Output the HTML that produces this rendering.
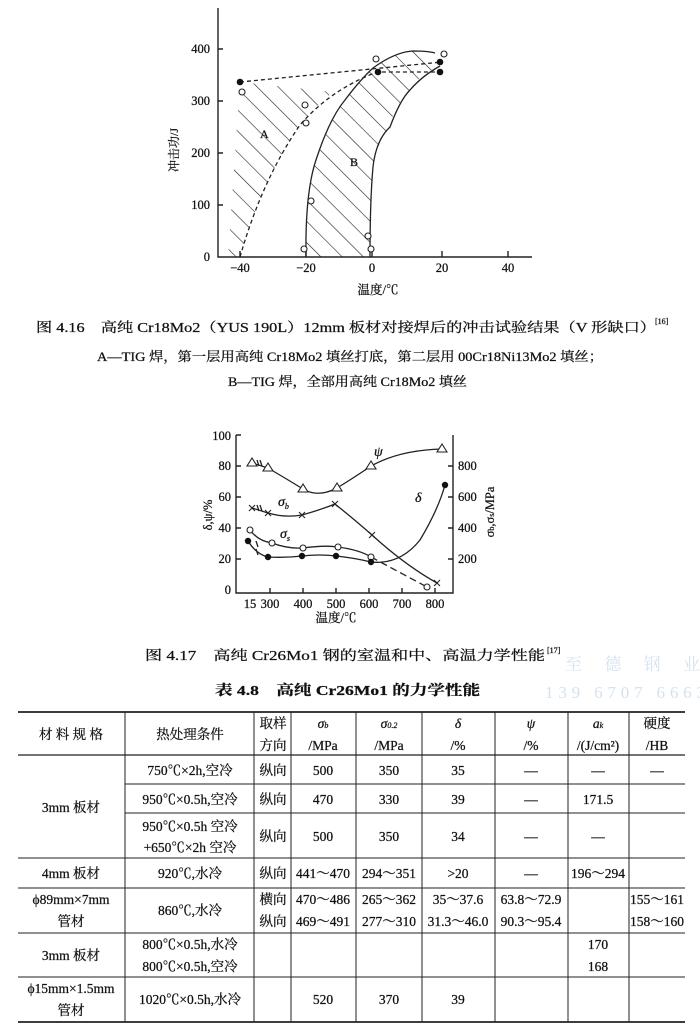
<!DOCTYPE html>
<html><head><meta charset="utf-8"><style>
html,body{margin:0;padding:0;background:#fff}
svg{display:block}
text{font-family:"Liberation Serif","Noto Serif CJK SC",serif;fill:#111;stroke:#111;stroke-width:0.25}
</style></head><body>
<svg width="700" height="1036" viewBox="0 0 700 1036" xmlns="http://www.w3.org/2000/svg">
<defs>
<pattern id="h" patternUnits="userSpaceOnUse" width="15" height="15" patternTransform="rotate(-45)">
<line x1="0" y1="0" x2="0" y2="15" stroke="#222" stroke-width="1.2"/>
</pattern>
</defs>
<!-- Chart 1 -->
<g stroke="#222" fill="none" stroke-width="1.4">
<path d="M218,8 V257 H532"/>
<path d="M218,49 h5 M218,101 h5 M218,153 h5 M218,205 h5 M240,257 v-6 M306,257 v-6 M372,257 v-6 M442,257 v-6 M508,257 v-6"/>
</g>
<path d="M228,257 L240,257 Q262,180 300,125 Q318,104 333,92 L240,82 Z" fill="url(#h)"/>
<path d="M306,257 Q305,190 317,157 Q330,118 345,100 Q360,80 373,68 Q395,52 413,51 Q428,51 435,53 L438,67 Q420,74 410,90 Q392,110 390,127 Q376,145 373,167 Q370,200 370,257 Z" fill="url(#h)"/>
<g stroke="#222" fill="none" stroke-width="1.3">
<path d="M306,257 Q305,190 317,157 Q330,118 345,100 Q360,80 373,68 Q395,52 413,51 Q428,51 435,53"/>
<path d="M370,257 Q370,200 373,167 Q376,140 390,127 Q400,100 410,90 Q422,76 440,66"/>
<path d="M240,257 Q262,180 300,125 Q330,90 377,72 L442,72" stroke-dasharray="4,3"/>
<path d="M240,82 L442,62" stroke-dasharray="4,3"/>
</g>
<g fill="#111"><circle cx="240" cy="82" r="3.3"/><circle cx="378" cy="72" r="3.3"/><circle cx="440" cy="62" r="3.3"/><circle cx="440" cy="72" r="3.3"/></g>
<g fill="#fff" stroke="#222" stroke-width="1.1">
<circle cx="242" cy="92" r="3"/><circle cx="305" cy="105" r="3"/><circle cx="306" cy="123" r="3"/><circle cx="376" cy="59" r="3"/><circle cx="444" cy="54" r="3"/><circle cx="311" cy="201" r="3"/><circle cx="304" cy="249" r="3"/><circle cx="368" cy="236" r="3"/><circle cx="371" cy="249" r="3"/>
</g>
<g font-size="12.5" text-anchor="end"><text x="210" y="53">400</text><text x="210" y="105">300</text><text x="210" y="157">200</text><text x="210" y="209">100</text><text x="210" y="261">0</text></g>
<g font-size="12.5" text-anchor="middle"><text x="240" y="272">−40</text><text x="306" y="272">−20</text><text x="372" y="272">0</text><text x="442" y="272">20</text><text x="508" y="272">40</text></g>
<text x="260" y="138" font-size="12">A</text><text x="350" y="166" font-size="12">B</text>
<text x="378" y="294" font-size="12.5" text-anchor="middle">温度/℃</text>
<text transform="translate(178,150) rotate(-90)" font-size="12" text-anchor="middle">冲击功/J</text>
<text x="36" y="332" font-size="13.5" textLength="620" lengthAdjust="spacingAndGlyphs">图 4.16　高纯 Cr18Mo2（YUS 190L）12mm 板材对接焊后的冲击试验结果（V 形缺口）</text>
<text x="655" y="324" font-size="8">[16]</text>
<text x="97" y="361" font-size="13" textLength="506" lengthAdjust="spacingAndGlyphs">A—TIG 焊，第一层用高纯 Cr18Mo2 填丝打底，第二层用 00Cr18Ni13Mo2 填丝；</text>
<text x="228" y="386" font-size="13" textLength="239" lengthAdjust="spacingAndGlyphs">B—TIG 焊，全部用高纯 Cr18Mo2 填丝</text>
<!-- Chart 2 -->
<g stroke="#222" fill="none" stroke-width="1.4">
<path d="M236,435 V593 H453 V435"/>
<path d="M236,435 h5 M236,466 h5 M236,497 h5 M236,528 h5 M236,559 h5 M453,466 h-5 M453,497 h-5 M453,528 h-5 M453,559 h-5 M270,593 v-5 M303,593 v-5 M336,593 v-5 M369,593 v-5 M402,593 v-5 M435,593 v-5"/>
</g>
<g stroke="#222" fill="none" stroke-width="1.3">
<path d="M252,463 L268,468 Q285,478 303,489 Q318,498 337,488 Q355,477 371,466 Q400,450 442,449"/>
<path d="M252,508 L268,513 Q285,518 302,515 Q320,510 335,504 Q355,520 372,535 Q405,565 437,583"/>
<path d="M250,530 Q258,541 272,543 Q288,549 303,548 Q325,545 338,547 Q360,550 371,557"/>
<path d="M371,557 L427,587" stroke-dasharray="7,4"/>
<path d="M248,541 Q256,554 268,557 Q285,558 302,556 Q320,554 336,556 Q355,558 371,562 Q400,565 420,540 Q438,510 445,485"/>
<path d="M257,460 l2,6 M260,460 l2,6 M257,505 l2,6 M260,505 l2,6 M256,541 l2,6 M256,549 l2,6"/>
</g>
<g fill="#fff" stroke="#222" stroke-width="1.1">
<path d="M252,458 l-5,8 h10 Z M268,463 l-5,8 h10 Z M303,484 l-5,8 h10 Z M337,483 l-5,8 h10 Z M371,461 l-5,8 h10 Z M442,444 l-5,8 h10 Z"/>
<circle cx="250" cy="530" r="3"/><circle cx="272" cy="543" r="3"/><circle cx="303" cy="548" r="3"/><circle cx="338" cy="547" r="3"/><circle cx="371" cy="557" r="3"/><circle cx="427" cy="587" r="3"/>
<path d="M249,505 l6,6 m0,-6 l-6,6 M265,510 l6,6 m0,-6 l-6,6 M299,512 l6,6 m0,-6 l-6,6 M332,501 l6,6 m0,-6 l-6,6 M369,532 l6,6 m0,-6 l-6,6 M434,580 l6,6 m0,-6 l-6,6"/>
</g>
<g fill="#111"><circle cx="248" cy="541" r="3.2"/><circle cx="268" cy="557" r="3.2"/><circle cx="302" cy="556" r="3.2"/><circle cx="336" cy="556" r="3.2"/><circle cx="371" cy="562" r="3.2"/><circle cx="445" cy="485" r="3.2"/></g>
<g font-size="12.5" text-anchor="end"><text x="231" y="440">100</text><text x="231" y="470">80</text><text x="231" y="501">60</text><text x="231" y="532">40</text><text x="231" y="563">20</text><text x="231" y="594">0</text></g>
<g font-size="12.5"><text x="458" y="470">800</text><text x="458" y="501">600</text><text x="458" y="532">400</text><text x="458" y="563">200</text></g>
<g font-size="12.5" text-anchor="middle"><text x="250" y="608">15</text><text x="270" y="608">300</text><text x="303" y="608">400</text><text x="336" y="608">500</text><text x="369" y="608">600</text><text x="402" y="608">700</text><text x="435" y="608">800</text></g>
<text x="336" y="622" font-size="12.5" text-anchor="middle">温度/℃</text>
<text x="374" y="456" font-size="14" font-style="italic">ψ</text>
<text x="278" y="506" font-size="14" font-style="italic">σ<tspan font-size="8" dy="3">b</tspan></text>
<text x="280" y="538" font-size="14" font-style="italic">σ<tspan font-size="8" dy="3">s</tspan></text>
<text x="415" y="502" font-size="14" font-style="italic">δ</text>
<text transform="translate(212,515) rotate(-90)" font-size="12.5" text-anchor="middle">δ,ψ/%</text>
<text transform="translate(494,512) rotate(-90)" font-size="12.5" text-anchor="middle">σ<tspan font-size="8">b</tspan>,σ<tspan font-size="8">s</tspan>/MPa</text>
<text x="145" y="660" font-size="13.5" textLength="400" lengthAdjust="spacingAndGlyphs">图 4.17　高纯 Cr26Mo1 钢的室温和中、高温力学性能</text>
<text x="547" y="653" font-size="8">[17]</text>
<text x="565" y="670" font-size="17" style="fill:#d5e2ee;stroke:none" textLength="135">至 德 钢 业</text>
<text x="545" y="698" font-size="17" style="fill:#d5e2ee;stroke:none" textLength="160">139 6707 6663</text>
<text x="215" y="695" font-size="14" font-weight="bold" textLength="265" lengthAdjust="spacingAndGlyphs">表 4.8　高纯 Cr26Mo1 的力学性能</text>
<!-- table -->
<g stroke="#222" fill="none">
<path d="M18,712 H685 M18,1022 H685" stroke-width="1.8"/>
<path d="M18,755 H685" stroke-width="1.3"/>
<path d="M125,784 H685 M125,813 H685 M18,858 H685 M18,888 H685 M18,933 H685 M18,977 H685" stroke-width="1"/>
<path d="M125,712 V1022 M254,712 V1022 M291,712 V1022 M356,712 V1022 M422,712 V1022 M495,712 V1022 M568,712 V1022 M629,712 V1022" stroke-width="1"/>
</g>
<g font-size="13.5" text-anchor="middle">
<text x="71" y="739">材 料 规 格</text><text x="190" y="739">热处理条件</text>
<text x="273" y="728">取样</text><text x="273" y="750">方向</text>
<text x="323" y="728" font-style="italic">σ<tspan font-size="8">b</tspan></text><text x="323" y="750">/MPa</text>
<text x="389" y="728" font-style="italic">σ<tspan font-size="8">0.2</tspan></text><text x="389" y="750">/MPa</text>
<text x="458" y="728" font-style="italic">δ</text><text x="458" y="750">/%</text>
<text x="531" y="728" font-style="italic">ψ</text><text x="531" y="750">/%</text>
<text x="598" y="728" font-style="italic">a<tspan font-size="8">k</tspan></text><text x="598" y="750">/(J/cm²)</text>
<text x="657" y="728">硬度</text><text x="657" y="750">/HB</text>
<text x="190" y="775">750℃×2h,空冷</text><text x="273" y="775">纵向</text><text x="323" y="775">500</text><text x="389" y="775">350</text><text x="458" y="775">35</text><text x="531" y="775">—</text><text x="598" y="775">—</text><text x="657" y="775">—</text>
<text x="71" y="812">3mm 板材</text>
<text x="190" y="804">950℃×0.5h,空冷</text><text x="273" y="804">纵向</text><text x="323" y="804">470</text><text x="389" y="804">330</text><text x="458" y="804">39</text><text x="531" y="804">—</text><text x="598" y="804">171.5</text>
<text x="190" y="831">950℃×0.5h 空冷</text><text x="190" y="852">+650℃×2h 空冷</text><text x="273" y="841">纵向</text><text x="323" y="841">500</text><text x="389" y="841">350</text><text x="458" y="841">34</text><text x="531" y="841">—</text><text x="598" y="841">—</text>
<text x="71" y="878">4mm 板材</text><text x="190" y="878">920℃,水冷</text><text x="273" y="878">纵向</text><text x="323" y="878">441～470</text><text x="389" y="878">294～351</text><text x="458" y="878">&gt;20</text><text x="531" y="878">—</text><text x="598" y="878">196～294</text>
<text x="71" y="904">ϕ89mm×7mm</text><text x="71" y="926">管材</text><text x="190" y="915">860℃,水冷</text>
<text x="273" y="904">横向</text><text x="273" y="926">纵向</text>
<text x="323" y="904">470～486</text><text x="323" y="926">469～491</text><text x="389" y="904">265～362</text><text x="389" y="926">277～310</text>
<text x="458" y="904">35～37.6</text><text x="458" y="926">31.3～46.0</text><text x="531" y="904">63.8～72.9</text><text x="531" y="926">90.3～95.4</text>
<text x="657" y="904">155～161</text><text x="657" y="926">158～160</text>
<text x="71" y="960">3mm 板材</text><text x="190" y="949">800℃×0.5h,水冷</text><text x="190" y="971">800℃×0.5h,空冷</text><text x="598" y="949">170</text><text x="598" y="971">168</text>
<text x="71" y="993">ϕ15mm×1.5mm</text><text x="71" y="1015">管材</text><text x="190" y="1004">1020℃×0.5h,水冷</text><text x="323" y="1004">520</text><text x="389" y="1004">370</text><text x="458" y="1004">39</text>
</g>
</svg>
</body></html>
